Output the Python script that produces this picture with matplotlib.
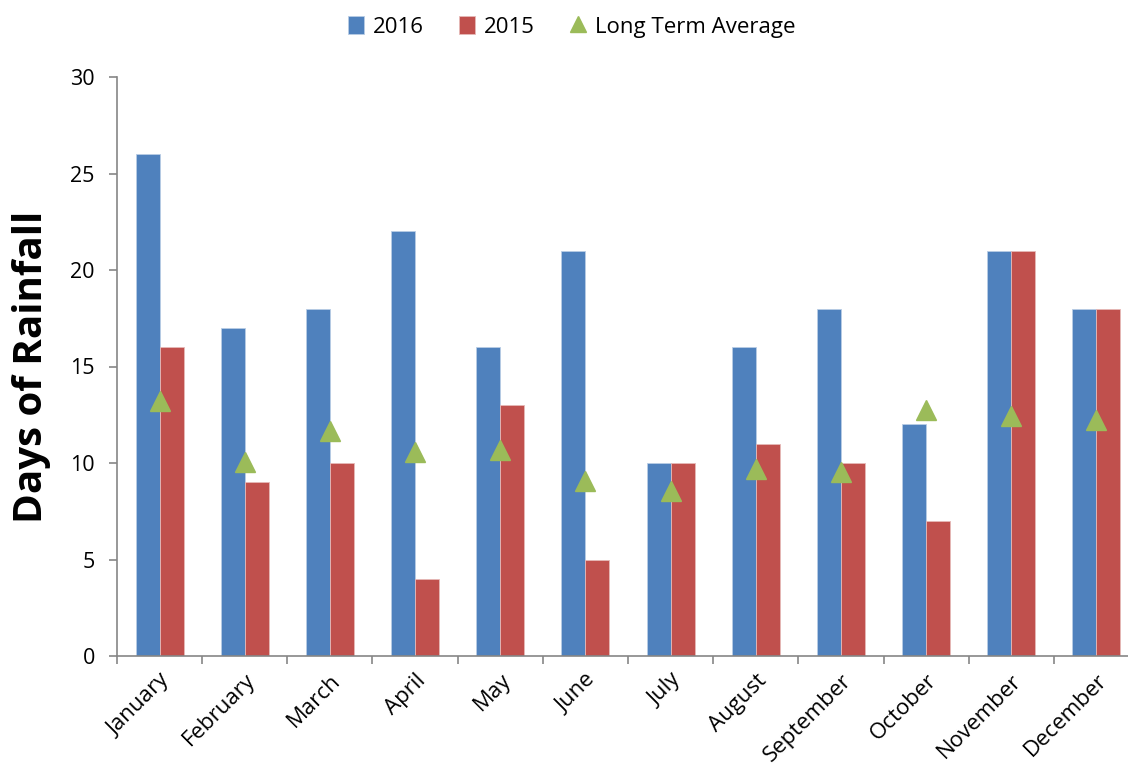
import numpy as np
import matplotlib
matplotlib.use("Agg")
import matplotlib.pyplot as plt

#%% Data
months = ["January", "February", "March", "April", "May", "June",
          "July", "August", "September", "October", "November", "December"]
days_2016 = [26, 17, 18, 22, 16, 21, 10, 16, 18, 12, 21, 18]
days_2015 = [16, 9, 10, 4, 13, 5, 10, 11, 10, 7, 21, 18]
long_term_avg = [13.2, 10.05, 11.65, 10.55, 10.65, 9.05, 8.55, 9.7, 9.55, 12.75, 12.45, 12.25]

plt.rcParams['font.family'] = ['Open Sans', 'DejaVu Sans']

#%% Plot
fig = plt.figure(figsize=(11.28, 7.73), dpi=100)
ax = fig.add_axes([117/1128, 117/773, 1022/1128, 579/773])

x = np.arange(len(months))
w = 0.282
b1 = ax.bar(x - w/2, days_2016, w, color='#4f81bd', edgecolor='#b9cde5', linewidth=0.6, label='2016')
b2 = ax.bar(x + w/2, days_2015, w, color='#c0504d', edgecolor='#e6b9b8', linewidth=0.6, label='2015')
tri, = ax.plot(x, long_term_avg, '^', color='#9bbb59', markersize=15, linestyle='none',
               label='Long Term Average')

ax.set_xlim(-0.5, 11.5)
ax.set_ylim(0, 30)
ax.set_yticks(range(0, 31, 5))
ax.set_xticks(x)
ax.set_xticklabels(months, rotation=45, ha='right', rotation_mode='anchor', fontsize=16)
ax.set_xticks(np.arange(-0.5, 12, 1), minor=True)
ax.tick_params(axis='x', which='major', length=0, pad=10)
ax.tick_params(axis='x', which='minor', length=6, color='#868686', width=1.2)
ax.tick_params(axis='y', length=6, color='#868686', width=1.2, labelsize=15.5, pad=10)

for s in ['top', 'right']:
    ax.spines[s].set_visible(False)
for s in ['left', 'bottom']:
    ax.spines[s].set_color('#868686')
    ax.spines[s].set_linewidth(1.2)

ax.set_ylabel('Days of Rainfall', fontsize=29, fontweight='bold', labelpad=14)

leg = ax.legend([b1, b2, tri], ['2016', '2015', 'Long Term Average'],
                loc='upper center', bbox_to_anchor=(0.445, 1.14), ncol=3, frameon=False,
                fontsize=16, handlelength=0.7, handleheight=0.9, handletextpad=0.4,
                columnspacing=1.6, markerscale=0.8)

fig.savefig('out.png', dpi=100)
